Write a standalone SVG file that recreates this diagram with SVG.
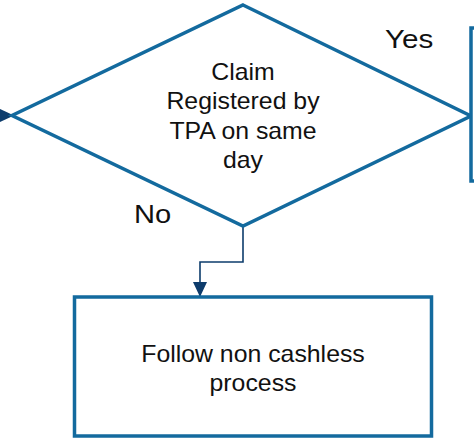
<svg xmlns="http://www.w3.org/2000/svg" width="474" height="441" viewBox="0 0 474 441">
<defs>
<style>
.shape{fill:#fff;stroke:#136A9E;stroke-width:3.5}
.conn{fill:none;stroke:#0D3C6C;stroke-width:1.6}
.t{font-family:"Liberation Sans",Arial,sans-serif;font-size:23px;fill:#111;text-anchor:middle}
.lbl{font-family:"Liberation Sans",Arial,sans-serif;font-size:26px;fill:#111}
</style>
<marker id="ah" viewBox="0 0 15 14" refX="14" refY="7" markerWidth="15" markerHeight="14" markerUnits="userSpaceOnUse" orient="auto">
<path d="M0,0 L15,7 L0,14 Z" fill="#0D3C6C"/>
</marker>
</defs>
<rect width="474" height="441" fill="#fff"/>
<g id="connectors">
<path class="conn" d="M-20,115.5 L13,115.5" marker-end="url(#ah)"/>
<path class="conn" d="M243,226 L243,262 L200,262 L200,296" marker-end="url(#ah)"/>
</g>
<g id="decision">
<polygon class="shape" points="243,5 471,116 243,226 12,115.5"/>
<g transform="translate(243,0) scale(1.08,1)">
<text class="t" x="0" y="80">Claim</text>
<text class="t" x="0" y="109.3">Registered by</text>
<text class="t" x="0" y="138.6">TPA on same</text>
<text class="t" x="0" y="167.9">day</text>
</g>
</g>
<g id="yes-target">
<rect class="shape" x="471" y="28" width="100" height="153"/>
</g>
<g id="process">
<rect class="shape" x="74.5" y="297" width="357" height="139"/>
<g transform="translate(253,0) scale(1.08,1)">
<text class="t" x="0" y="362.5">Follow non cashless</text>
<text class="t" x="0" y="391">process</text>
</g>
</g>
<g id="labels">
<g transform="translate(385,48.3) scale(1.14,1)"><text class="lbl" x="0" y="0">Yes</text></g>
<g transform="translate(134,223.3) scale(1.12,1)"><text class="lbl" x="0" y="0">No</text></g>
</g>
</svg>
